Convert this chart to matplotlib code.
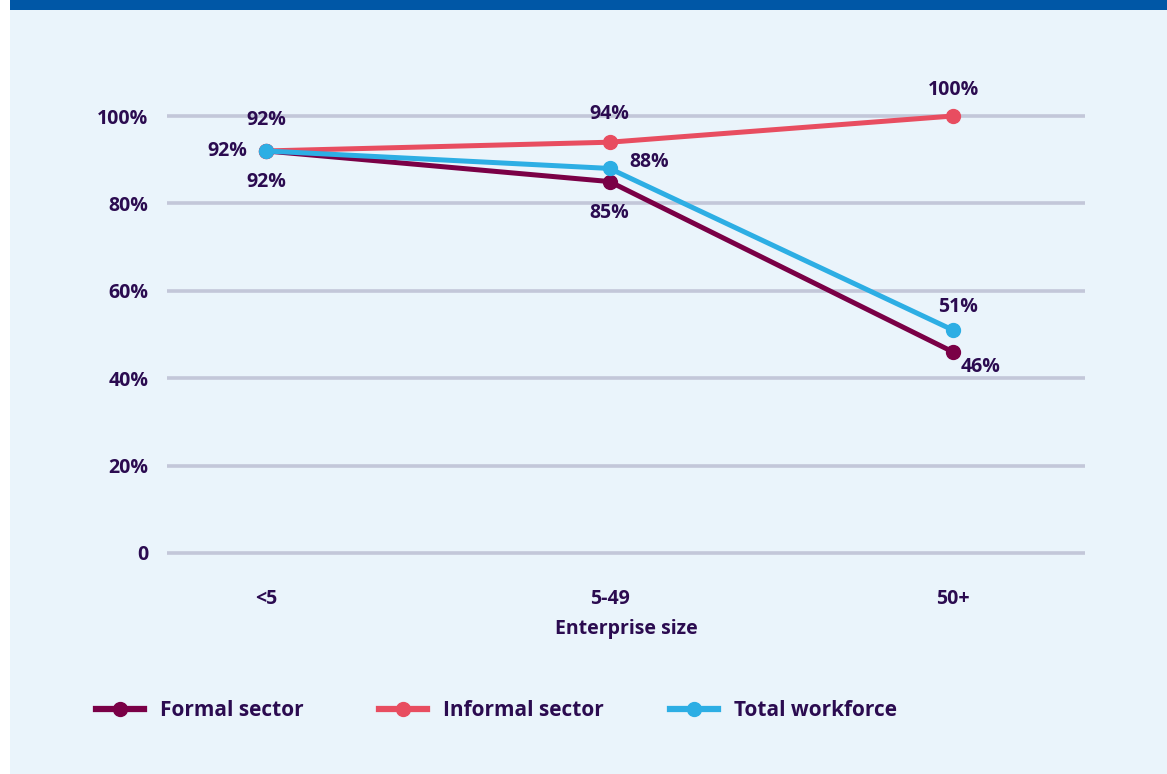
import matplotlib
matplotlib.use("Agg")
import matplotlib.pyplot as plt
from matplotlib.patches import Rectangle
from matplotlib.lines import Line2D

# Data
categories = ["<5", "5-49", "50+"]
formal = [92, 85, 46]
informal = [92, 94, 100]
total = [92, 88, 51]
series_names = ["Formal sector", "Informal sector", "Total workforce"]
y_ticks = [0, 20, 40, 60, 80, 100]
y_tick_labels = ["0", "20%", "40%", "60%", "80%", "100%"]

# Styling
TEXT = "#2B0B50"
GRID = "#C3C7D9"
BG = "#EAF4FB"
BAND = "#0057A6"
colors = ["#7A0046", "#E84D60", "#2DAEE4"]
FONT = "Open Sans"
plt.rcParams["font.family"] = [FONT, "DejaVu Sans"]
plt.rcParams["font.weight"] = "bold"
LABEL_SIZE = 14

W, H = 1167, 774
fig = plt.figure(figsize=(W / 100, H / 100), dpi=100, facecolor="white")

# panel background and top band
fig.add_artist(Rectangle((10 / W, 0), 1 - 10 / W, 1, transform=fig.transFigure,
                         facecolor=BG, edgecolor="none", zorder=-10))
fig.add_artist(Rectangle((10 / W, 1 - 10 / H), 1 - 10 / W, 10 / H,
                         transform=fig.transFigure, facecolor=BAND,
                         edgecolor="none", zorder=-9))

# axes geometry: 0 sits at y=553 px, 100% at y=116 px
PX_PER_UNIT = 4.37
ymin, ymax = -3, 110
ax_left, ax_right = 167 / W, 1085 / W
ax_bottom = (H - (553 - ymin * PX_PER_UNIT)) / H
ax_top = (H - (553 - ymax * PX_PER_UNIT)) / H
ax = fig.add_axes([ax_left, ax_bottom, ax_right - ax_left, ax_top - ax_bottom])
ax.set_facecolor("none")

x = list(range(len(categories)))
ax.set_xlim(-0.288, 2.384)
ax.set_ylim(ymin, ymax)

for s in ax.spines.values():
    s.set_visible(False)

ax.set_yticks(y_ticks)
ax.set_yticklabels(y_tick_labels)
ax.yaxis.grid(True, color=GRID, linewidth=2.6)
ax.set_axisbelow(True)
ax.tick_params(axis="y", length=0, pad=13.5, labelsize=LABEL_SIZE, labelcolor=TEXT)
ax.set_xticks(x)
ax.set_xticklabels(categories)
ax.tick_params(axis="x", length=0, pad=16.5, labelsize=LABEL_SIZE, labelcolor=TEXT)
for lbl in ax.get_xticklabels() + ax.get_yticklabels():
    lbl.set_fontweight("bold")
    lbl.set_fontfamily([FONT, "DejaVu Sans"])
ax.set_xlabel("Enterprise size", fontsize=LABEL_SIZE, color=TEXT, fontweight="bold",
              labelpad=7)

series = [formal, informal, total]
lines = []
for vals, c, name in zip(series, colors, series_names):
    ln, = ax.plot(x, vals, color=c, linewidth=3.6, marker="o", markersize=10,
                  label=name, clip_on=False, solid_capstyle="round")
    lines.append(ln)

# value labels: (series index, category index, dx px, dy px)
label_offsets = [
    (0, 0, -39, 0), (1, 0, 0, -31), (2, 0, 0, 31),
    (1, 1, 0, -28), (2, 1, 40, -6), (0, 1, 0, 31),
    (1, 2, 0, -26), (2, 2, 5, -23), (0, 2, 27, 15),
]
for si, ci, dx, dy in label_offsets:
    v = series[si][ci]
    ax.annotate(f"{v}%", (x[ci], v), xytext=(dx * 0.72, -dy * 0.72),
                textcoords="offset points", ha="center", va="center",
                fontsize=LABEL_SIZE, fontweight="bold", color=TEXT,
                annotation_clip=False)

# legend, one entry per column
legend_x = [96 / W, 379 / W, 670 / W]
legend_y = (H - 711) / H
for ln, lx in zip(lines, legend_x):
    handle = Line2D([], [], color=ln.get_color(), linewidth=4.5, marker="o",
                    markersize=10)
    leg = fig.legend([handle], [ln.get_label()], loc="center left",
                     bbox_to_anchor=(lx, legend_y), frameon=False,
                     borderpad=0, borderaxespad=0, handlelength=2.3,
                     handletextpad=0.75, prop={"family": FONT, "weight": "bold",
                                               "size": 15})
    for t in leg.get_texts():
        t.set_color(TEXT)

fig.savefig("out.png", dpi=100, facecolor=fig.get_facecolor())
